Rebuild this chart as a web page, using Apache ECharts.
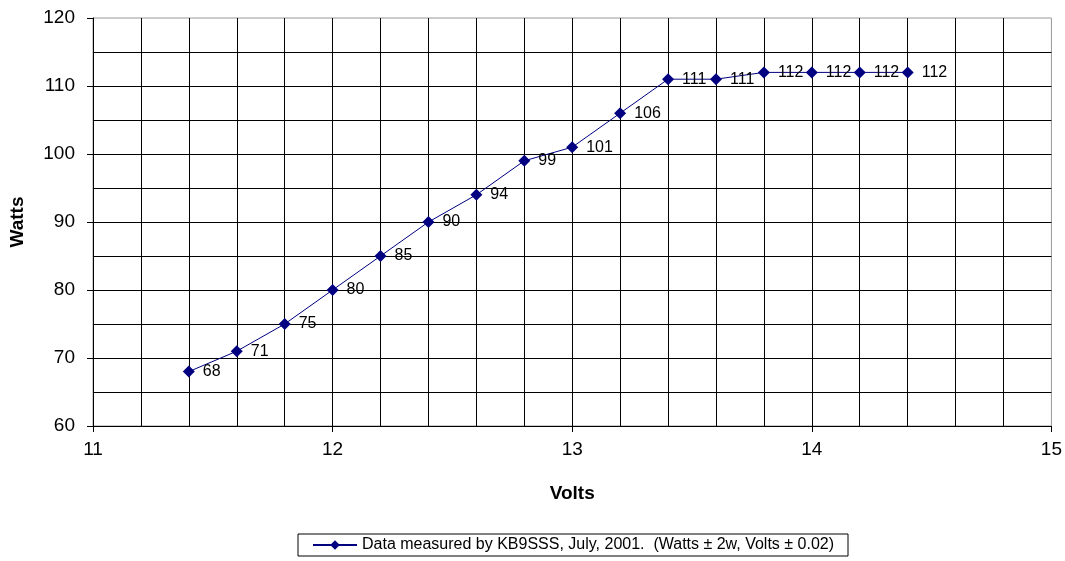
<!DOCTYPE html>
<html>
<head>
<meta charset="utf-8">
<script src="https://cdn.jsdelivr.net/npm/echarts@6/dist/echarts.min.js"></script>
<style>html,body{margin:0;padding:0;background:#fff}#c{width:1065px;height:561px}</style>
</head>
<body>
<div id="c"></div>
<script>
const volts = [11.4, 11.6, 11.8, 12.0, 12.2, 12.4, 12.6, 12.8, 13.0, 13.2, 13.4, 13.6, 13.8, 14.0, 14.2, 14.4];
const watts = [68, 71, 75, 80, 85, 90, 94, 99, 101, 106, 111, 111, 112, 112, 112, 112];
const seriesName = 'Data measured by KB9SSS, July, 2001.  (Watts \u00B1 2w, Volts \u00B1 0.02)';
const xTitle = 'Volts';
const yTitle = 'Watts';

const font = 'Arial, "Liberation Sans", sans-serif';
const chart = echarts.init(document.getElementById('c'), null, {renderer: 'canvas'});
chart.setOption({
  animation: false,
  backgroundColor: '#fff',
  grid: {left: 93, right: 12, top: 18, bottom: 135, show: true, borderColor: '#999', borderWidth: 1},
  xAxis: {
    type: 'value', min: 11, max: 15, interval: 1,
    axisLine: {lineStyle: {color: '#000', width: 1}},
    axisTick: {show: true, length: 6, lineStyle: {color: '#000'}},
    axisLabel: {color: '#000', fontSize: 19, fontFamily: font, margin: 14},
    splitLine: {show: true, showMinLine: false, showMaxLine: false, lineStyle: {color: '#000', width: 1}},
    minorTick: {show: false, splitNumber: 5},
    minorSplitLine: {show: true, lineStyle: {color: '#000', width: 1}},
    name: xTitle, nameLocation: 'middle', nameGap: 58,
    nameTextStyle: {color: '#000', fontSize: 19, fontWeight: 'bold', fontFamily: font}
  },
  yAxis: {
    type: 'value', min: 60, max: 120, interval: 10,
    axisLine: {show: true, lineStyle: {color: '#000', width: 1}},
    axisTick: {show: true, length: 6, lineStyle: {color: '#000'}},
    axisLabel: {color: '#000', fontSize: 19, fontFamily: font, margin: 18},
    splitLine: {show: true, showMinLine: false, showMaxLine: false, lineStyle: {color: '#000', width: 1}},
    minorTick: {show: false, splitNumber: 2},
    minorSplitLine: {show: true, lineStyle: {color: '#000', width: 1}},
    name: yTitle, nameLocation: 'middle', nameGap: 66, nameRotate: 90,
    nameTextStyle: {color: '#000', fontSize: 19, fontWeight: 'bold', fontFamily: font}
  },
  legend: {
    show: true, bottom: 5, left: 298,
    orient: 'horizontal',
    borderColor: '#000', borderWidth: 1, borderRadius: 0,
    padding: [3, 14, 3, 14],
    itemWidth: 44, itemHeight: 12, itemGap: 4,
    itemStyle: {color: '#000080'},
    textStyle: {color: '#000', fontSize: 16, fontFamily: font},
    data: [seriesName]
  },
  series: [{
    name: seriesName,
    type: 'line',
    data: volts.map((v, i) => [v, watts[i]]),
    symbol: 'diamond', symbolSize: 12,
    itemStyle: {color: '#000080'},
    lineStyle: {color: '#000080', width: 1},
    label: {show: true, position: 'right', distance: 8, color: '#000', fontSize: 16, fontFamily: font,
      formatter: p => p.value[1]}
  }]
});
</script>
</body>
</html>
